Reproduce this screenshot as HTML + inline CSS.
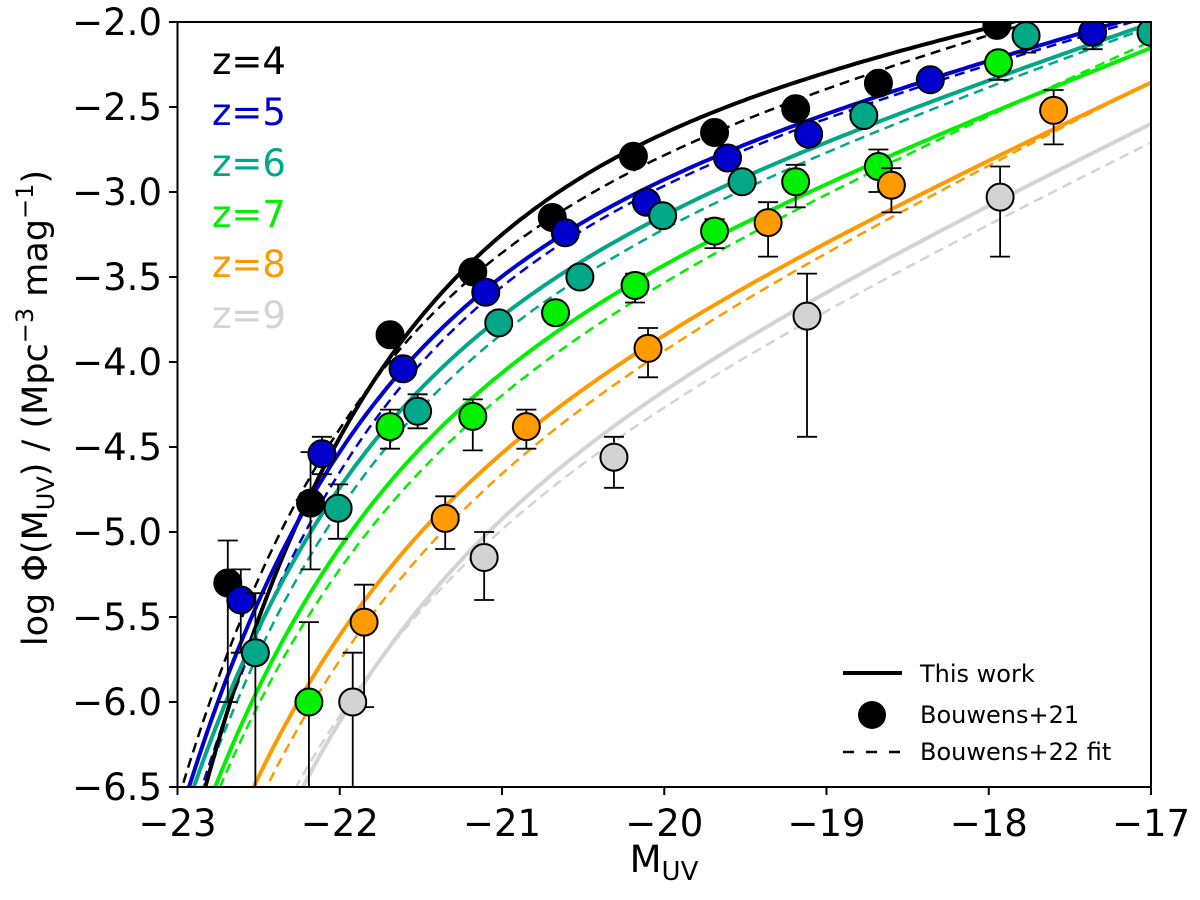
<!DOCTYPE html>
<html><head><meta charset="utf-8"><style>
html,body{margin:0;padding:0;background:#fff;overflow:hidden;width:1200px;height:900px;}
svg text{font-family:"DejaVu Sans","Liberation Sans",sans-serif;}
</style></head><body>
<svg id="chart" xmlns="http://www.w3.org/2000/svg" width="1200" height="900" viewBox="0 0 1200 900" style="display:block;overflow:hidden">
<defs><clipPath id="plotclip"><rect x="177.5" y="22" width="973.5" height="765"/></clipPath></defs>
<rect x="0" y="0" width="1200" height="900" fill="#fff"/>
<g id="curves" clip-path="url(#plotclip)"></g>
<g id="points" clip-path="url(#plotclip)"></g>
<rect x="177.5" y="22" width="973.5" height="765" fill="none" stroke="#000" stroke-width="2"/>
<g id="xticks"></g>
<g id="yticks"></g>
<text x="664" y="872" font-size="37" text-anchor="middle">M<tspan font-size="26" dy="8">UV</tspan></text>
<text transform="translate(47,408) rotate(-90)" font-size="35" text-anchor="middle">log Φ(M<tspan font-size="24" dy="7">UV</tspan><tspan dy="-7">) / (Mpc</tspan><tspan font-size="24" dy="-14">−3</tspan><tspan dy="14"> mag</tspan><tspan font-size="24" dy="-14">−1</tspan><tspan dy="14">)</tspan></text>
<g id="zlabels">
<text x="212" y="74" font-size="37" fill="#000">z=4</text>
<text x="212" y="125" font-size="37" fill="#0000cd">z=5</text>
<text x="212" y="176" font-size="37" fill="#00a888">z=6</text>
<text x="212" y="227" font-size="37" fill="#00f000">z=7</text>
<text x="212" y="277" font-size="37" fill="#ff9a00">z=8</text>
<text x="212" y="328" font-size="37" fill="#d3d3d3">z=9</text>
</g>
<g id="legend">
<line x1="843" y1="673" x2="902" y2="673" stroke="#000" stroke-width="4"/>
<text x="920" y="682" font-size="24">This work</text>
<circle cx="872" cy="715" r="14" fill="#000"/>
<text x="920" y="723" font-size="24">Bouwens+21</text>
<line x1="843" y1="752" x2="902" y2="752" stroke="#000" stroke-width="2.5" stroke-dasharray="11,12"/>
<text x="920" y="760" font-size="24">Bouwens+22 fit</text>
</g>
</svg>
<script>
// Axis ticks
const xTicks = [-23, -22, -21, -20, -19, -18, -17];
const yTicks = [-2.0, -2.5, -3.0, -3.5, -4.0, -4.5, -5.0, -5.5, -6.0, -6.5];
const colors = ["#000000", "#0000cd", "#00a888", "#00f000", "#ff9a00", "#d3d3d3"];
const redshifts = [4, 5, 6, 7, 8, 9];

// Curve values (M, log phi) for solid "This work" curves
const sM4 = [-17.95, -20.69, -21.69, -22.82];
const sV4 = [-2.00, -3.15, -3.84, -6.50];
const sM5 = [-17.36, -20.61, -21.61, -22.93];
const sV5 = [-2.05, -3.24, -4.04, -6.50];
const sM6 = [-17.0, -20.01, -22.90];
const sV6 = [-2.01, -3.14, -6.50];
const sM7 = [-17.0, -18.55, -20.18, -22.77];
const sV7 = [-2.17, -2.73, -3.55, -6.50];
const sM8 = [-17.0, -18.60, -20.10, -22.53];
const sV8 = [-2.39, -3.02, -3.95, -6.50];
const sM9 = [-17.0, -18.24, -19.12, -20.31, -22.23];
const sV9 = [-2.65, -3.15, -3.59, -4.45, -6.50];
// Dashed "Bouwens+22 fit" curves
const dM4 = [-17.95, -20.69, -21.69, -22.97];
const dV4 = [-2.05, -3.20, -3.95, -6.50];
const dM5 = [-17.36, -20.61, -21.61, -22.85];
const dV5 = [-2.07, -3.27, -4.15, -6.50];
const dM6 = [-17.0, -20.01, -22.84];
const dV6 = [-2.03, -3.22, -6.50];
const dM7 = [-17.0, -18.55, -20.18, -22.74];
const dV7 = [-2.12, -2.79, -3.65, -6.50];
const dM8 = [-17.0, -20.10, -22.45];
const dV8 = [-2.35, -4.00, -6.50];
const dM9 = [-17.0, -18.24, -20.31, -22.27];
const dV9 = [-2.75, -3.24, -4.50, -6.50];

// Data points (Bouwens+21)
const m4 = [-22.69, -22.18, -21.69, -21.18, -20.69, -20.19, -19.69, -19.19, -18.68, -17.95];
const p4 = [-5.30, -4.83, -3.84, -3.47, -3.15, -2.79, -2.65, -2.51, -2.36, -2.02];
const hi4 = [0.25, 0.30, 0.04, 0.03, 0.03, 0.03, 0.03, 0.03, 0.03, 0.03];
const lo4 = [0.70, 0.39, 0.04, 0.03, 0.03, 0.03, 0.03, 0.03, 0.03, 0.03];
const m5 = [-22.61, -22.11, -21.61, -21.10, -20.61, -20.11, -19.61, -19.11, -18.36, -17.36];
const p5 = [-5.40, -4.54, -4.04, -3.59, -3.24, -3.06, -2.80, -2.66, -2.34, -2.06];
const hi5 = [0.18, 0.10, 0.05, 0.03, 0.03, 0.03, 0.03, 0.03, 0.03, 0.05];
const lo5 = [0.31, 0.12, 0.05, 0.03, 0.03, 0.03, 0.03, 0.03, 0.03, 0.10];
const m6 = [-22.52, -22.01, -21.52, -21.02, -20.52, -20.01, -19.52, -18.77, -17.77, -17.0];
const p6 = [-5.71, -4.86, -4.29, -3.77, -3.50, -3.14, -2.94, -2.55, -2.08, -2.06];
const hi6 = [0.35, 0.14, 0.10, 0.03, 0.03, 0.03, 0.03, 0.05, 0.05, 0.05];
const lo6 = [1.00, 0.18, 0.10, 0.03, 0.03, 0.03, 0.03, 0.05, 0.10, 0.05];
const m7 = [-22.19, -21.69, -21.18, -20.67, -20.18, -19.69, -19.19, -18.68, -17.94];
const p7 = [-6.00, -4.38, -4.32, -3.71, -3.55, -3.23, -2.94, -2.85, -2.24];
const hi7 = [0.47, 0.10, 0.10, 0.05, 0.07, 0.07, 0.10, 0.10, 0.05];
const lo7 = [1.00, 0.13, 0.20, 0.05, 0.10, 0.10, 0.15, 0.15, 0.10];
const m8 = [-21.85, -21.35, -20.85, -20.10, -19.36, -18.60, -17.60];
const p8 = [-5.53, -4.92, -4.38, -3.92, -3.18, -2.96, -2.52];
const hi8 = [0.22, 0.13, 0.10, 0.12, 0.12, 0.10, 0.12];
const lo8 = [0.50, 0.18, 0.13, 0.17, 0.20, 0.16, 0.20];
const m9 = [-21.92, -21.11, -20.31, -19.12, -17.93];
const p9 = [-6.00, -5.15, -4.56, -3.73, -3.03];
const hi9 = [0.29, 0.15, 0.12, 0.25, 0.18];
const lo9 = [1.00, 0.25, 0.18, 0.71, 0.35];

const NS = "http://www.w3.org/2000/svg";
const X0 = 177.5, XS = 162.25, Y0 = 22, YS = 170;
function xs(m) { return X0 + (m + 23) * XS; }
function ys(v) { return Y0 + (-2 - v) * YS; }
function shape(M, ms, a) { const u = 0.4 * (ms - M); return (a + 1) * u - 0.4343 * Math.pow(10, u); }
// Least-squares Schechter fit through the read curve values
function fit(Ms, Vs) {
  let best = null;
  for (let a = -2.6; a <= -1.2; a += 0.01) {
    for (let ms = -22.8; ms <= -19.0; ms += 0.01) {
      let s = 0;
      const g = Ms.map(m => shape(m, ms, a));
      for (let k = 0; k < Ms.length; k++) s += Vs[k] - g[k];
      const A = s / Ms.length;
      let err = 0;
      for (let k = 0; k < Ms.length; k++) { const r = Vs[k] - g[k] - A; err += r * r; }
      if (!best || err < best.err) best = {err: err, a: a, ms: ms, A: A};
    }
  }
  return best;
}
function mk(tag, attrs) { const e = document.createElementNS(NS, tag); for (const k in attrs) e.setAttribute(k, attrs[k]); return e; }

const xg = document.getElementById('xticks');
xTicks.forEach(t => {
  const l = mk('line', {x1: xs(t), x2: xs(t), y1: 787, y2: 795, stroke: '#000', 'stroke-width': 2});
  
  
  xg.appendChild(l);
  const tx = mk('text', {x: xs(t), y: 836, 'font-size': 37, 'text-anchor': 'middle'});
  tx.textContent = '\u2212' + Math.abs(t);
  
  
  xg.appendChild(tx);
});
const yg = document.getElementById('yticks');
yTicks.forEach(t => {
  const l = mk('line', {x1: 169, x2: 177.5, y1: ys(t), y2: ys(t), stroke: '#000', 'stroke-width': 2});
  
  
  yg.appendChild(l);
  const tx = mk('text', {x: 162, y: ys(t) + 13, 'font-size': 37, 'text-anchor': 'end'});
  tx.textContent = '\u2212' + Math.abs(t).toFixed(1);
  
  
  yg.appendChild(tx);
});

const cg = document.getElementById('curves');
function curve(i, Ms, Vs, dashed) {
  const f = fit(Ms, Vs);
  let d = '';
  for (let k = 0; k <= 300; k++) {
    const M = -23.2 + k * 6.3 / 300;
    let v = f.A + shape(M, f.ms, f.a);
    if (v < -7.5) v = -7.5;
    d += (k ? 'L' : 'M') + xs(M).toFixed(1) + ',' + ys(v).toFixed(1);
  }
  const p = mk('path', {d: d, fill: 'none', stroke: colors[i], 'stroke-width': dashed ? 2.5 : 4});
  if (dashed) p.setAttribute('stroke-dasharray', '10,6');
  
  
  cg.appendChild(p);
}
const dashSets = [[dM4, dV4], [dM5, dV5], [dM6, dV6], [dM7, dV7], [dM8, dV8], [dM9, dV9]];
const solidSets = [[sM4, sV4], [sM5, sV5], [sM6, sV6], [sM7, sV7], [sM8, sV8], [sM9, sV9]];
dashSets.forEach((s, i) => curve(i, s[0], s[1], true));
solidSets.forEach((s, i) => curve(i, s[0], s[1], false));

const pg = document.getElementById('points');
const series = [[m4, p4, hi4, lo4], [m5, p5, hi5, lo5], [m6, p6, hi6, lo6], [m7, p7, hi7, lo7], [m8, p8, hi8, lo8], [m9, p9, hi9, lo9]];
series.forEach((s, i) => {
  const [M, P, H, L] = s;
  M.forEach((m, j) => {
    const cx = xs(m), y1 = ys(P[j] + H[j]), y2 = ys(P[j] - L[j]);
    const e = mk('path', {d: `M${cx},${y1}V${y2}M${cx - 10},${y1}H${cx + 10}M${cx - 10},${y2}H${cx + 10}`, stroke: '#000', 'stroke-width': 1.8, fill: 'none'});
    
    
    pg.appendChild(e);
  });
  M.forEach((m, j) => {
    const c = mk('circle', {cx: xs(m), cy: ys(P[j]), r: 13.5, fill: colors[i], stroke: '#000', 'stroke-width': 2});
    
    
    pg.appendChild(c);
  });
});
</script>
</body></html>
